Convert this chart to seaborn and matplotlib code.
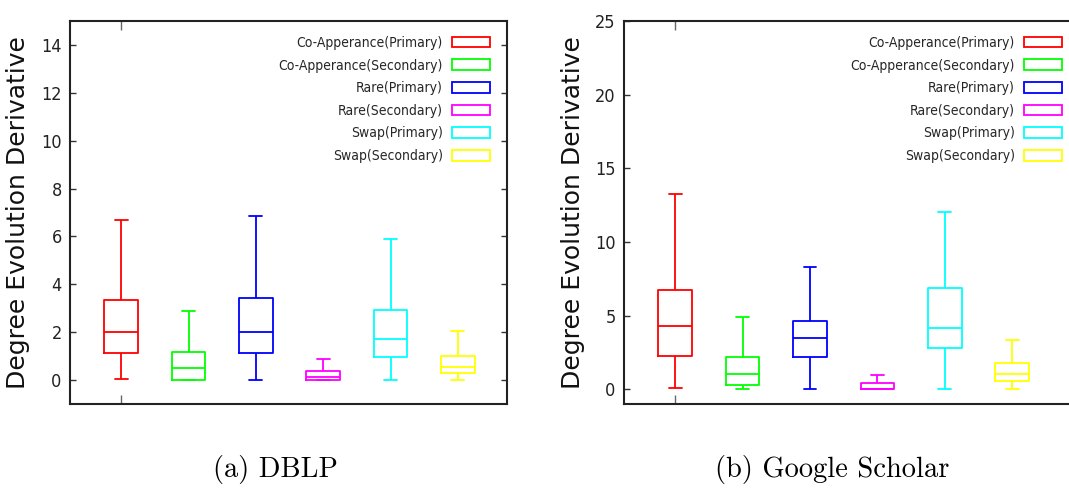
import pandas as pd
import matplotlib
matplotlib.use('Agg')
import matplotlib.pyplot as plt
from matplotlib.patches import Patch
from matplotlib.font_manager import FontProperties
import seaborn as sns

series = ['Co-Apperance(Primary)', 'Co-Apperance(Secondary)', 'Rare(Primary)',
          'Rare(Secondary)', 'Swap(Primary)', 'Swap(Secondary)']
colors = ['#ff0000', '#00ff00', '#0000ff', '#ff00ff', '#00ffff', '#ffff00']

# five-number summaries: min, q1, median, q3, max
dblp_min = [0.03, 0.0, 0.0, 0.0, 0.0, 0.0]
dblp_q1 = [1.13, 0.0, 1.11, 0.0, 0.95, 0.28]
dblp_med = [2.0, 0.5, 2.0, 0.11, 1.71, 0.53]
dblp_q3 = [3.35, 1.17, 3.43, 0.36, 2.94, 0.99]
dblp_max = [6.7, 2.87, 6.87, 0.88, 5.9, 2.06]

gs_min = [0.07, 0.0, 0.05, 0.0, 0.05, 0.0]
gs_q1 = [2.26, 0.32, 2.17, 0.0, 2.81, 0.57]
gs_med = [4.28, 1.06, 3.48, 0.05, 4.14, 1.06]
gs_q3 = [6.74, 2.19, 4.64, 0.43, 6.9, 1.81]
gs_max = [13.28, 4.93, 8.28, 0.97, 12.0, 3.37]

dblp_ticks = [0, 2, 4, 6, 8, 10, 12, 14]
gs_ticks = [0, 5, 10, 15, 20, 25]

ylabel = 'Degree Evolution Derivative'
captions = ['(a) DBLP', '(b) Google Scholar']


def narrow(size):
    return FontProperties(family='DejaVu Sans', stretch='condensed', size=size)


def to_frame(mins, q1s, meds, q3s, maxs):
    rows = []
    for name, a, b, c, d, e in zip(series, mins, q1s, meds, q3s, maxs):
        for v in (a, b, c, d, e):
            rows.append({'series': name, 'value': v})
    return pd.DataFrame(rows)


def draw_panel(ax, df, ticks, ylim, xlim, label_x):
    sns.boxplot(data=df, x='series', y='value', hue='series', palette=colors,
                order=series, hue_order=series, fill=False, width=0.5,
                whis=(0, 100), linewidth=1.3, legend=False, ax=ax,
                capwidths=0.19)
    ax.set_xlim(*xlim)
    ax.set_ylim(*ylim)
    ax.set_yticks(ticks)
    ax.set_yticklabels([str(t) for t in ticks], fontproperties=narrow(13),
                       color='#222222')
    ax.set_xticks([0])
    ax.set_xticklabels([''])
    ax.set_xlabel('')
    ax.set_ylabel(ylabel, family='DejaVu Sans', fontsize=18, color='#111111')
    ax.yaxis.label.set_va('center')
    ax.yaxis.set_label_coords(label_x, 0.5)
    ax.tick_params(axis='y', direction='in', length=4.5, width=1.0,
                   color='#333333', pad=6, left=True, right=True)
    ax.tick_params(axis='x', direction='in', length=6.5, width=1.0,
                   color='#666666', top=True, bottom=True)
    for sp in ax.spines.values():
        sp.set_visible(True)
        sp.set_color('#222222')
        sp.set_linewidth(1.5)
    handles = [Patch(facecolor='none', edgecolor=c, linewidth=1.3) for c in colors]
    leg = ax.legend(handles, series, loc='upper right', frameon=False,
                    markerfirst=False, borderaxespad=0, borderpad=0,
                    handlelength=2.75, handleheight=0.8, handletextpad=0.65,
                    labelspacing=0.62, prop=narrow(10))
    return leg


sns.set_theme(style='white')
plt.rcParams['font.family'] = ['DejaVu Sans']

fig = plt.figure(figsize=(10.69, 4.94), dpi=100)
W, H = 1069, 494

ax1 = fig.add_axes([70 / W, (H - 404) / H, 437 / W, 383 / H])
leg1 = draw_panel(ax1, to_frame(dblp_min, dblp_q1, dblp_med, dblp_q3, dblp_max),
                  dblp_ticks, (-1, 15), (-0.76, 5.73), -52 / 437)
leg1.set_bbox_to_anchor((1 - 17 / 437, 1 - 15 / 383), transform=ax1.transAxes)

ax2 = fig.add_axes([624 / W, (H - 404) / H, 455 / W, 383 / H])
leg2 = draw_panel(ax2, to_frame(gs_min, gs_q1, gs_med, gs_q3, gs_max),
                  gs_ticks, (-1, 25), (-0.76, 5.99), -51 / 455)
leg2.set_bbox_to_anchor((1 - 17 / 455, 1 - 15 / 383), transform=ax2.transAxes)

fig.text(275 / W, (H - 477) / H, captions[0], family='cmr10', fontsize=20.5,
         ha='center', va='baseline', color='black')
fig.text(832 / W, (H - 477) / H, captions[1], family='cmr10', fontsize=20.5,
         ha='center', va='baseline', color='black')

fig.savefig('out.png', dpi=100, facecolor='white')
